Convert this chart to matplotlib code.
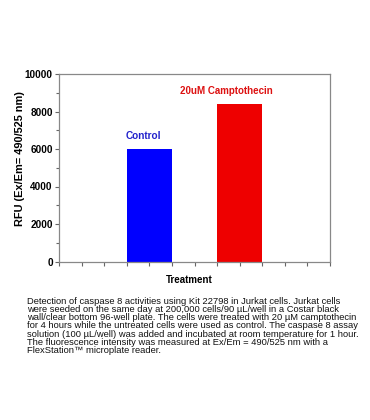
import matplotlib
matplotlib.use("Agg")
import matplotlib.pyplot as plt
from matplotlib.ticker import MultipleLocator

plt.rcParams["font.family"] = ["Liberation Sans", "DejaVu Sans"]

# data
groups = ["Control", "20uM Camptothecin"]
positions = [4, 8]
rfu = [6000, 8400]
colors = ["#0000ff", "#ee0000"]
label_colors = ["#2222cc", "#dd1111"]

caption = (
    "Detection of caspase 8 activities using Kit 22798 in Jurkat cells. Jurkat cells\n"
    "were seeded on the same day at 200,000 cells/90 \u00b5L/well in a Costar black\n"
    "wall/clear bottom 96-well plate. The cells were treated with 20 \u00b5M camptothecin\n"
    "for 4 hours while the untreated cells were used as control. The caspase 8 assay\n"
    "solution (100 \u00b5L/well) was added and incubated at room temperature for 1 hour.\n"
    "The fluorescence intensity was measured at Ex/Em = 490/525 nm with a\n"
    "FlexStation\u2122 microplate reader."
)

W, H = 370, 420
fig = plt.figure(figsize=(W / 100, H / 100), dpi=100)
ax = fig.add_axes([59 / W, 1 - 261.5 / H, (330 - 59) / W, (261.5 - 74) / H])

ax.bar(positions, rfu, width=2, color=colors, edgecolor="none")

ax.set_xlim(0, 12)
ax.set_ylim(0, 10000)
ax.xaxis.set_major_locator(MultipleLocator(1))
ax.set_xticklabels([])
ax.yaxis.set_major_locator(MultipleLocator(2000))
ax.yaxis.set_minor_locator(MultipleLocator(1000))
ax.tick_params(axis="both", which="both", direction="out", color="#666666",
               width=0.8, length=3)
ax.tick_params(axis="y", which="minor", length=2)
ax.tick_params(axis="y", labelsize=7.2, pad=1.5)
for lbl in ax.get_yticklabels():
    lbl.set_fontweight("bold")
for side in ["top", "right", "bottom", "left"]:
    ax.spines[side].set_color("#888888")
    ax.spines[side].set_linewidth(0.9)

offsets = [-0.25, -0.6]
sizes = [7.2, 7.0]
for x, v, name, c, dx, fs in zip(positions, rfu, groups, label_colors, offsets, sizes):
    ax.text(x + dx, v + 450, name, color=c, fontsize=fs, fontweight="bold",
            ha="center", va="bottom")

fig.text(20.5 / W, 1 - 158.7 / H, "RFU (Ex/Em= 490/525 nm)", fontsize=7.9,
         fontweight="bold", rotation=90, ha="center", va="center")
fig.text(189.7 / W, 1 - 280 / H, "Treatment", fontsize=7, fontweight="bold",
         ha="center", va="center")

fig.text(27 / W, 1 - 297 / H, caption, fontsize=6.75, ha="left", va="top",
         linespacing=0.88, color="#111111")

fig.savefig("out.png", dpi=100)
